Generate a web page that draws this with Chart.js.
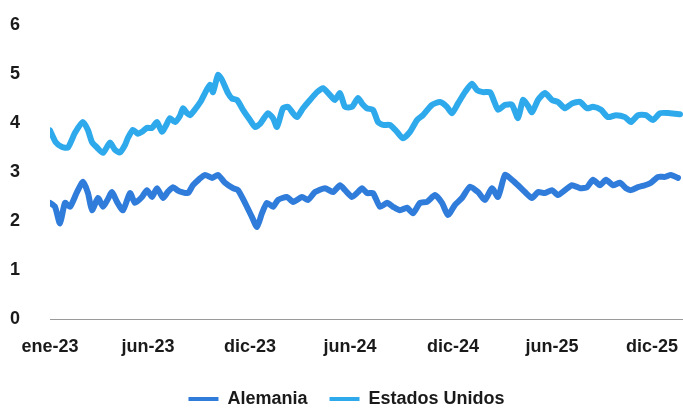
<!DOCTYPE html>
<html>
<head>
<meta charset="utf-8">
<script src="https://cdn.jsdelivr.net/npm/chart.js@4"></script>
<style>
  html, body { margin: 0; padding: 0; background: #ffffff; }
  #wrap { width: 683px; height: 408px; position: relative; }
</style>
</head>
<body>
<div id="wrap"><canvas id="c"></canvas></div>
<script>
// Semanas transcurridas desde el 2 de enero de 2023 (eje X) y rentabilidades (%)
const semanasAlemania = [0,1.25,2.5,3.75,5,6.75,8.25,9.5,10.5,12,13.25,14.5,15.5,16.75,18.25,20,21.25,23,24.25,25.5,26.75,28.25,29.5,30.75,32,33,34.5,35.75,37.25,38.75,40.5,42,43.75,45.75,47,48.75,50.5,51.75,53,54.25,55.75,57,59.25,60.75,63,64.5,66.25,68.75,70.75,72.5,73.75,75.5,77,78,79.25,80.75,82.5,84.25,85.75,87.5,89.25,90.75,92.5,94.25,96.25,98,99.5,101.25,103,105,107,108.75,110.5,112,113.75,115.5,117,118.75,120.5,122,123.75,125.5,127,128.75,130.5,132.5,134.25,135.75,137.5,139,140.75,142.5,144,145.25,147,148.75,150.25,152,153.75,155.25,157];
const valoresAlemania = [2.37,2.29,1.95,2.37,2.29,2.59,2.8,2.57,2.22,2.47,2.29,2.45,2.59,2.39,2.22,2.57,2.37,2.49,2.63,2.49,2.67,2.47,2.6,2.69,2.62,2.59,2.57,2.73,2.85,2.94,2.88,2.94,2.78,2.67,2.63,2.37,2.08,1.88,2.16,2.37,2.29,2.43,2.49,2.39,2.49,2.43,2.59,2.67,2.59,2.73,2.63,2.49,2.59,2.67,2.57,2.57,2.29,2.37,2.29,2.22,2.27,2.16,2.37,2.39,2.53,2.37,2.12,2.33,2.47,2.7,2.59,2.43,2.67,2.49,2.94,2.84,2.73,2.59,2.47,2.59,2.57,2.63,2.53,2.63,2.73,2.67,2.69,2.84,2.73,2.84,2.73,2.78,2.67,2.63,2.69,2.73,2.78,2.9,2.9,2.94,2.88];

const semanasEEUU = [0,1.5,3,4.5,6.25,8.25,9.5,10.5,11.75,13.25,15,16.25,17.5,18.75,19.5,20.75,22,23,24.25,25.5,26.75,28,29,30,31.25,32.5,33.25,34.25,35,36,36.75,37.75,38.75,40,40.75,42,43,44.5,45.5,46.75,48.25,50,51.25,52.5,53.5,54.5,55.75,56.75,58.25,59.5,60.75,61.75,63.25,65,66.75,68.25,70,71.25,72.5,73.75,75.5,77,78,79.25,80.75,82,83.25,85,86.75,88.25,90,91.75,93.25,95.5,97.5,99.25,100.5,102,103.75,105.5,106.75,108.25,110,111,112,113.75,115.5,117,118.25,119.5,120.5,122,123.75,125.5,127,128.75,130.5,132.5,134.25,135.75,137.75,139.5,141.5,143.75,145.25,147,149,150.75,152.5,155,157.5];
const valoresEEUU = [3.85,3.6,3.51,3.5,3.8,4.02,3.85,3.61,3.5,3.39,3.6,3.45,3.4,3.55,3.7,3.86,3.78,3.82,3.9,3.9,4.02,3.82,3.95,4.1,4.02,4.15,4.3,4.2,4.16,4.25,4.33,4.45,4.61,4.78,4.63,4.98,4.88,4.61,4.5,4.47,4.27,4.06,3.92,3.98,4.1,4.2,4.1,3.92,4.3,4.33,4.2,4.12,4.3,4.47,4.63,4.71,4.57,4.47,4.61,4.33,4.33,4.51,4.4,4.3,4.27,4.02,3.96,3.96,3.82,3.69,3.82,4.06,4.16,4.37,4.43,4.33,4.2,4.4,4.63,4.8,4.67,4.63,4.63,4.45,4.27,4.37,4.37,4.1,4.47,4.35,4.22,4.47,4.61,4.47,4.43,4.3,4.4,4.43,4.3,4.33,4.27,4.12,4.16,4.12,4.02,4.16,4.16,4.06,4.2,4.2,4.18];

const etiquetasX = ['ene-23','jun-23','dic-23','jun-24','dic-24','jun-25','dic-25',''];
const semanasEtiquetas = [0,24.5,50,75,100.75,125.5,150.5,158.25];
const ticksY = [0,1,2,3,4,5,6];

const FONT = "'Liberation Sans', Arial, 'DejaVu Sans', sans-serif";

const toXY = (xs, ys) => xs.map((x, i) => ({ x: x, y: ys[i] }));

new Chart(document.getElementById('c'), {
  type: 'line',
  data: {
    datasets: [
      {
        label: 'Alemania',
        data: toXY(semanasAlemania, valoresAlemania),
        borderColor: '#2f7cdb',
        backgroundColor: '#2f7cdb',
        borderWidth: 6,
        pointRadius: 0,
        tension: 0.2,
        borderJoinStyle: 'round',
        borderCapStyle: 'round'
      },
      {
        label: 'Estados Unidos',
        data: toXY(semanasEEUU, valoresEEUU),
        borderColor: '#2eaaec',
        backgroundColor: '#2eaaec',
        borderWidth: 6,
        pointRadius: 0,
        tension: 0.2,
        borderJoinStyle: 'round',
        borderCapStyle: 'round'
      }
    ]
  },
  options: {
    responsive: true,
    maintainAspectRatio: false,
    animation: false,
    layout: { padding: { left: 10, right: 0, top: 25, bottom: -10 } },
    plugins: {
      tooltip: { enabled: false },
      legend: {
        position: 'bottom',
        align: 'center',
        labels: {
          color: '#1a1a1a',
          font: { family: FONT, size: 18, weight: 'bold' },
          boxWidth: 30,
          boxHeight: 4,
          padding: 22,
          generateLabels: (chart) => {
            const items = Chart.defaults.plugins.legend.labels.generateLabels(chart);
            items.forEach(it => { it.lineWidth = 0; it.strokeStyle = it.fillStyle; });
            return items;
          }
        }
      }
    },
    scales: {
      x: {
        type: 'linear',
        min: 0,
        max: 158.25,
        grid: { display: true, drawOnChartArea: false, drawTicks: true, tickLength: 17, tickColor: 'rgba(0,0,0,0)' },
        border: { display: true, color: '#9a9a9a', width: 1 },
        afterBuildTicks: (scale) => { scale.ticks = semanasEtiquetas.map(v => ({ value: v })); },
        afterFit: (scale) => { scale.height = 49; },
        ticks: {
          autoSkip: false,
          maxRotation: 0,
          padding: 0,
          color: '#1a1a1a',
          font: { family: FONT, size: 18, weight: 'bold' },
          callback: (v, i) => etiquetasX[i]
        }
      },
      y: {
        min: 0,
        max: 6,
        grid: { display: false, drawTicks: false },
        border: { display: false },
        afterBuildTicks: (scale) => { scale.ticks = ticksY.map(v => ({ value: v })); },
        afterFit: (scale) => { scale.width = 40; },
        ticks: {
          padding: 0,
          crossAlign: 'far',
          color: '#1a1a1a',
          font: { family: FONT, size: 18, weight: 'bold' }
        }
      }
    }
  }
});
</script>
</body>
</html>
